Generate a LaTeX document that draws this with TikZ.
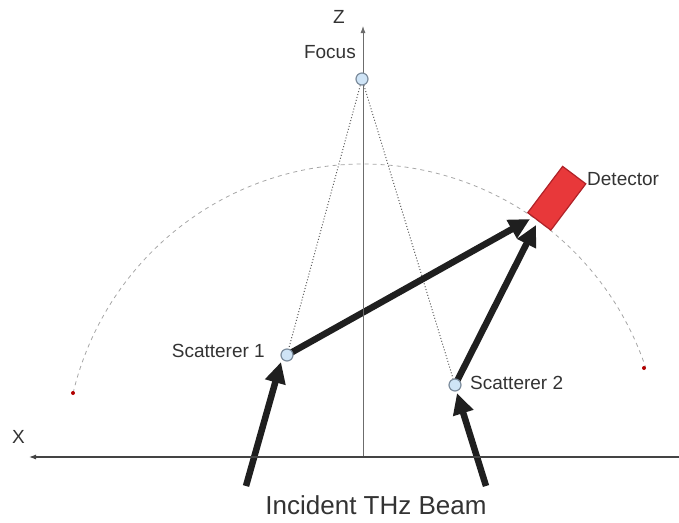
\documentclass[tikz,border=0pt]{standalone}
\usepackage{fontspec}
\setmainfont{Liberation Sans}
\usetikzlibrary{arrows.meta,backgrounds}
\definecolor{txt}{HTML}{333333}
\definecolor{axisc}{HTML}{444444}
\definecolor{detred}{HTML}{E8383A}
\definecolor{detedge}{HTML}{B02228}
\definecolor{ptfill}{HTML}{CFE4F6}
\definecolor{ptedge}{HTML}{7C8C9C}
\tikzset{
  lbl/.style={text=txt,font=\fontsize{19}{22}\selectfont,inner sep=0pt},
  pt/.style={circle,draw=ptedge,fill=ptfill,line width=1.2pt,minimum size=12pt,inner sep=0pt},
  beam/.style={line width=6.5pt,black!88,-{Triangle[length=21pt,width=20pt]}},
  axisline/.style={axisc,line width=1.1pt,-{Latex[length=7pt,width=5pt]}},
  guide/.style={gray!70!black,line width=1pt,dotted},
  reddot/.style={circle,fill=red!70!black,inner sep=0pt,minimum size=4pt}
}
\begin{document}
\begin{tikzpicture}[x=1pt,y=-1pt]
\useasboundingbox (0,0) rectangle (679,522);
% axes
\coordinate (o) at (363,457);
\coordinate (ztop) at (363,26);
\coordinate (xr) at (679,457);
\coordinate (xl) at (29,457);
\draw[axisline,line width=0.8pt,gray!85!black] (o) -- (ztop);
\draw[axisline] (xr) -- (xl);
\node[lbl] (zl) at (339,17) {Z};
\node[lbl] (xlab) at (18.5,437) {X};
% arc
\draw[gray!70,line width=0.8pt,dash pattern=on 4pt off 4pt]
  plot[domain=-166.6:-18.5,samples=120] ({363+298*cos(\x)},{462+298*sin(\x)});
\node[reddot] (rl) at (73,393) {};
\node[reddot] (rr) at (644,368) {};
% points
\node[pt] (f) at (362,79) {};
\node[lbl,anchor=east] (fl) at (356,52) {Focus};
\node[pt] (s1) at (287,355) {};
\node[lbl,anchor=east] (s1l) at (265,351) {Scatterer 1};
\node[pt] (s2) at (455,385) {};
\node[lbl,anchor=west] (s2l) at (470,383) {Scatterer 2};
% detector
\node[draw=detedge,fill=detred,line width=1.2pt,minimum width=58pt,minimum height=29pt,inner sep=0pt,rotate=53] (det) at (556.75,198.25) {};
\node[lbl,anchor=west] (dl) at (587,179) {Detector};
% coordinates
\coordinate (d1) at (530,219);
\coordinate (d2) at (536,225);
\coordinate (b1s) at (246,486);
\coordinate (b1e) at (281,362);
\coordinate (b2s) at (486,486);
\coordinate (b2e) at (457,393);
\begin{pgfonlayer}{background}
\draw[guide] (f) -- (s1);
\draw[guide] (f) -- (s2);
\draw[beam] (s1.center) -- (d1);
\draw[beam] (s2.center) -- (d2);
\draw[beam] (b1s) -- (b1e);
\draw[beam] (b2s) -- (b2e);
\end{pgfonlayer}
\node[text=txt,font=\fontsize{26}{30}\selectfont,inner sep=0pt] (title) at (376,505) {Incident THz Beam};
\end{tikzpicture}
\end{document}
